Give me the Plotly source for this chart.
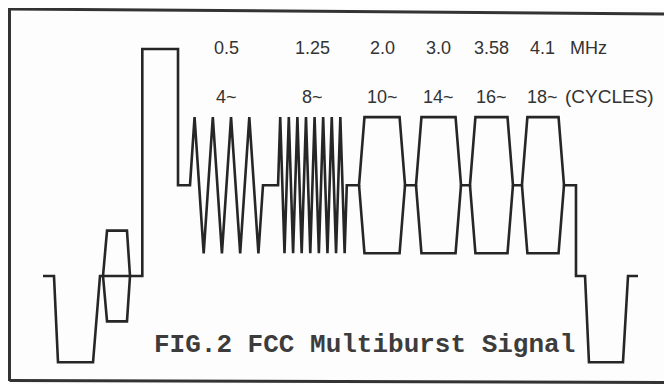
import plotly.graph_objects as go

# ---- signal levels (IRE) ----
SYNC = -38
BLANK = 0
WHITE = 100
BURST_MID = 40
BURST_HI = 70
BURST_LO = 10
CB_AMP = 20

# ---- front porch / sync / colour burst / white flag (time in microseconds) ----
front_t = [-1.55, -0.24, 0.24, 4.42, 5.25, 10.3, 10.3, 14.56, 14.56, 15.99]
front_v = [BLANK, BLANK, SYNC, SYNC, BLANK, BLANK, WHITE, WHITE, BURST_MID, BURST_MID]

cb_t = [5.61, 6.09, 8.47, 8.83, 8.47, 6.09, 5.61]
cb_v = [BLANK, CB_AMP, CB_AMP, BLANK, -CB_AMP, -CB_AMP, BLANK]

# ---- multiburst packets ----
freq_labels = ["0.5", "1.25", "2.0", "3.0", "3.58", "4.1"]
cycle_labels = ["4~", "8~", "10~", "14~", "16~", "18~"]
cycles = [4, 8, 10, 14, 16, 18]
burst_start = [15.99, 26.5, 36.16, 42.96, 49.4, 55.6]
burst_end = [24.7, 34.7, 41.65, 48.33, 54.53, 60.62]
ENV_RAMP = 0.65

# ---- end of line and next sync ----
tail_t = [62.05, 62.05, 63.13, 63.6, 67.66, 68.26, 69.45]
tail_v = [BURST_MID, BLANK, BLANK, SYNC, SYNC, BLANK, BLANK]

LINE = "#262626"

main_t, main_v = list(front_t), list(front_v)
low_t, low_v = [], []
for c, t0, t1 in zip(cycles, burst_start, burst_end):
    main_t.append(t0); main_v.append(BURST_MID)
    if c <= 8:
        period = (t1 - t0) / c
        for k in range(c):
            main_t += [t0 + period * (k + 0.25), t0 + period * (k + 0.75)]
            main_v += [BURST_HI, BURST_LO]
        main_t.append(t1); main_v.append(BURST_MID)
    else:
        main_t += [t0 + ENV_RAMP, t1 - ENV_RAMP, t1]
        main_v += [BURST_HI, BURST_HI, BURST_MID]
        low_t += [t0, t0 + ENV_RAMP, t1 - ENV_RAMP, t1, None]
        low_v += [BURST_MID, BURST_LO, BURST_LO, BURST_MID, None]
main_t += tail_t
main_v += tail_v

# page body has an 8px margin: figure is 664x376 and sits at (8,8)
W, H, OFF = 664, 376, 8
XPX, X0 = 8.38, 56      # px per microsecond, px of sync edge (page coords)
YPX, Y0 = 2.27, 276     # px per IRE, px of blanking (page coords)


def px(x):
    return (x - OFF) / W


def py(y):
    return 1 - (y - OFF) / H


fig = go.Figure()
line_style = dict(color=LINE, width=2.6)
fig.add_trace(go.Scatter(x=main_t, y=main_v, mode="lines", line=line_style,
                         hoverinfo="skip", showlegend=False))
fig.add_trace(go.Scatter(x=low_t, y=low_v, mode="lines", line=line_style,
                         hoverinfo="skip", showlegend=False))
fig.add_trace(go.Scatter(x=cb_t, y=cb_v, mode="lines", line=line_style,
                         hoverinfo="skip", showlegend=False))

label_font = dict(family="Liberation Sans, Arial, sans-serif", size=18, color="#333333")
for f, cl, t0, t1 in zip(freq_labels, cycle_labels, burst_start, burst_end):
    xc = (t0 + t1) / 2
    fig.add_annotation(x=xc, y=100.5, text=f, showarrow=False, font=label_font,
                       xanchor="center", yanchor="middle")
    fig.add_annotation(x=xc, y=79, text=cl, showarrow=False, font=label_font,
                       xanchor="center", yanchor="middle")
fig.add_annotation(x=61.1, y=100.5, text="MHz", showarrow=False, font=label_font,
                   xanchor="left", yanchor="middle")
fig.add_annotation(x=60.5, y=79, text="(CYCLES)", showarrow=False,
                   font=dict(label_font, size=19),
                   xanchor="left", yanchor="middle")

fig.add_annotation(xref="paper", yref="paper", x=px(364), y=py(345),
                   text="FIG.2 FCC Multiburst Signal", showarrow=False,
                   xanchor="center", yanchor="middle",
                   font=dict(family="Liberation Mono, Courier New, monospace",
                             size=26, color="#3c3c3c", weight="bold"))

# scanned frame around the figure
frame = dict(color="#333333", width=3)
fig.add_shape(type="line", xref="paper", yref="paper",
              x0=px(9.5), y0=py(9), x1=px(672), y1=py(14), line=frame)
fig.add_shape(type="line", xref="paper", yref="paper",
              x0=px(9.5), y0=py(8), x1=px(9.5), y1=py(381), line=frame)
fig.add_shape(type="line", xref="paper", yref="paper",
              x0=px(9.5), y0=py(380.5), x1=px(672), y1=py(382.5), line=frame)

fig.update_xaxes(range=[(OFF - X0) / XPX, (OFF + W - X0) / XPX],
                 visible=False, fixedrange=True)
fig.update_yaxes(range=[(Y0 - OFF - H) / YPX, (Y0 - OFF) / YPX],
                 visible=False, fixedrange=True)
fig.update_layout(width=W, height=H, margin=dict(l=0, r=0, t=0, b=0),
                  paper_bgcolor="#fdfdfd", plot_bgcolor="#fdfdfd")

fig.write_html("out.html")
